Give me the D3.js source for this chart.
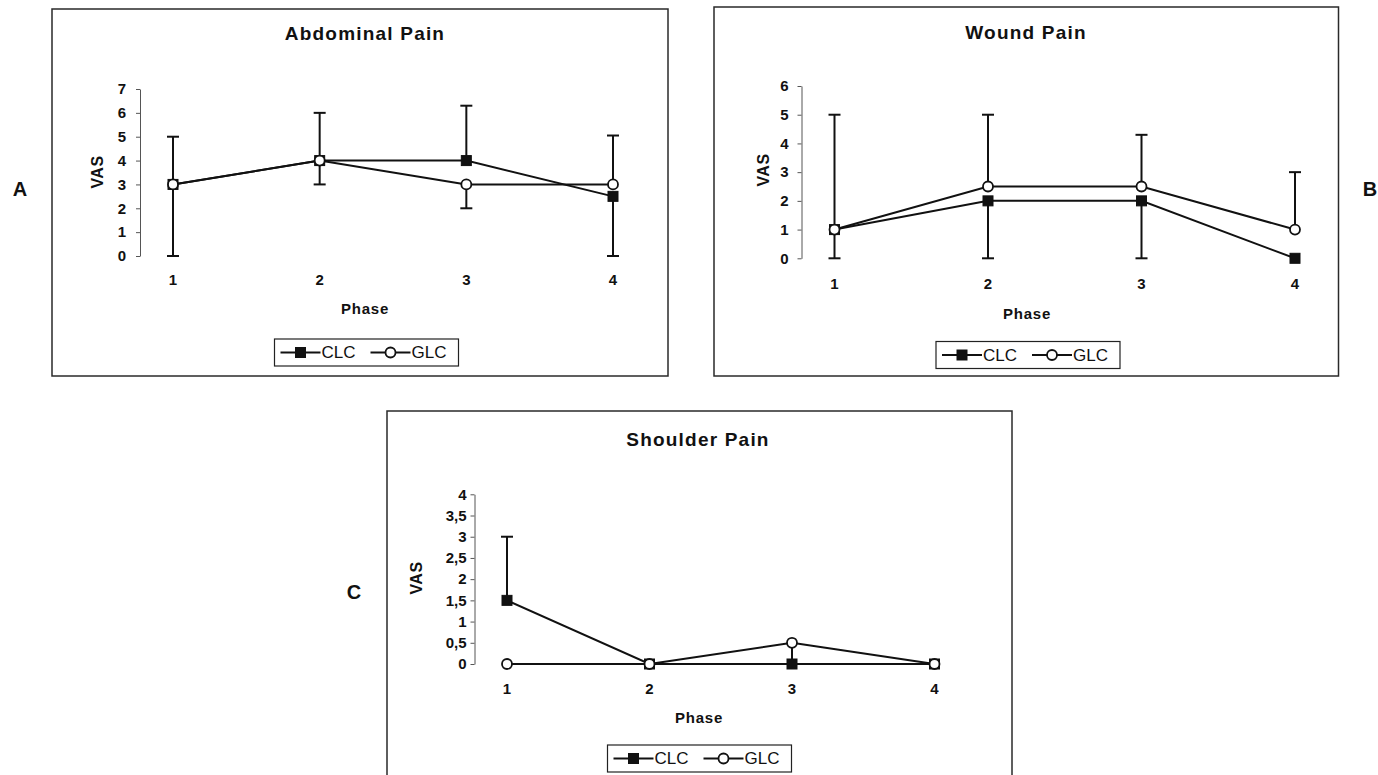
<!DOCTYPE html>
<html>
<head>
<meta charset="utf-8">
<script src="https://cdn.jsdelivr.net/npm/d3@7"></script>
<style>
  html, body { margin: 0; padding: 0; background: #fff; }
  svg { display: block; font-family: "Liberation Sans", Arial, Helvetica, sans-serif; }
</style>
</head>
<body>
<svg id="chart" width="1378" height="775"></svg>
<script>
// ---- data ----
const phases = [1, 2, 3, 4];
const seriesNames = ["CLC", "GLC"];

// Abdominal pain (VAS per phase)
const abdominalClc = [3, 4, 4, 2.5];
const abdominalGlc = [3, 4, 3, 3];
const abdominalClcHigh = [5, 6, 6.3, null];
const abdominalClcLow = [0, 3, null, 0];
const abdominalGlcHigh = [null, null, null, 5.05];
const abdominalGlcLow = [null, null, 2, null];
const abdominalTicks = [0, 1, 2, 3, 4, 5, 6, 7];

// Wound pain
const woundClc = [1, 2, 2, 0];
const woundGlc = [1, 2.5, 2.5, 1];
const woundClcHigh = [null, null, null, null];
const woundClcLow = [0, 0, 0, null];
const woundGlcHigh = [5, 5, 4.3, 3];
const woundGlcLow = [null, null, null, null];
const woundTicks = [0, 1, 2, 3, 4, 5, 6];

// Shoulder pain
const shoulderClc = [1.5, 0, 0, 0];
const shoulderGlc = [0, 0, 0.5, 0];
const shoulderClcHigh = [3, null, null, null];
const shoulderClcLow = [null, null, null, null];
const shoulderGlcHigh = [null, null, null, null];
const shoulderGlcLow = [null, null, 0, null];
const shoulderTicks = [0, 0.5, 1, 1.5, 2, 2.5, 3, 3.5, 4];
const shoulderTickLabels = ["0", "0,5", "1", "1,5", "2", "2,5", "3", "3,5", "4"];

// ---- layout of the three panels ----
const panels = [
  {
    title: "Abdominal Pain", letter: "A", letterX: 20, letterY: 189,
    frame: [52, 9, 668, 376],
    yMax: 7, yBottom: 256, yTop: 89, axisX: 140, tickPad: 10,
    ticks: abdominalTicks, tickFormat: d => String(d),
    xFirst: 173, xLast: 613, xLabelY: 279,
    titleX: 365, titleY: 40, phaseX: 365, phaseY: 308, vasX: 97, vasY: 172,
    legendX: 274.5, legendY: 339,
    clc: abdominalClc, glc: abdominalGlc,
    clcHigh: abdominalClcHigh, clcLow: abdominalClcLow,
    glcHigh: abdominalGlcHigh, glcLow: abdominalGlcLow
  },
  {
    title: "Wound Pain", letter: "B", letterX: 1370, letterY: 189,
    frame: [714, 7, 1338.5, 376],
    yMax: 6, yBottom: 258.3, yTop: 86, axisX: 801.5, tickPad: 9,
    ticks: woundTicks, tickFormat: d => String(d),
    xFirst: 834.5, xLast: 1295, xLabelY: 283,
    titleX: 1026, titleY: 39, phaseX: 1027, phaseY: 313, vasX: 763, vasY: 170,
    legendX: 936, legendY: 341.5,
    clc: woundClc, glc: woundGlc,
    clcHigh: woundClcHigh, clcLow: woundClcLow,
    glcHigh: woundGlcHigh, glcLow: woundGlcLow
  },
  {
    title: "Shoulder Pain", letter: "C", letterX: 354, letterY: 592,
    frame: [387, 411, 1012, 800],
    yMax: 4, yBottom: 664, yTop: 494.3, axisX: 474.5, tickPad: 4,
    ticks: shoulderTicks, tickFormat: (d, i) => shoulderTickLabels[i],
    xFirst: 507, xLast: 934.5, xLabelY: 688,
    titleX: 698, titleY: 446, phaseX: 699, phaseY: 717, vasX: 416, vasY: 578,
    legendX: 607.5, legendY: 745,
    clc: shoulderClc, glc: shoulderGlc,
    clcHigh: shoulderClcHigh, clcLow: shoulderClcLow,
    glcHigh: shoulderGlcHigh, glcLow: shoulderGlcLow
  }
];

const svg = d3.select("#chart");
const INK = "#111";

function drawSquare(g, cx, cy) {
  g.append("rect")
    .attr("x", cx - 5).attr("y", cy - 5)
    .attr("width", 10).attr("height", 10)
    .attr("fill", INK).attr("stroke", INK).attr("stroke-width", 1);
}
function drawCircle(g, cx, cy) {
  g.append("circle")
    .attr("cx", cx).attr("cy", cy).attr("r", 5)
    .attr("fill", "#fff").attr("stroke", INK).attr("stroke-width", 1.8);
}

function drawPanel(p) {
  const g = svg.append("g");
  const [fx0, fy0, fx1, fy1] = p.frame;

  // outer frame
  g.append("rect")
    .attr("x", fx0).attr("y", fy0)
    .attr("width", fx1 - fx0).attr("height", fy1 - fy0)
    .attr("fill", "none").attr("stroke", "#2a2a2a").attr("stroke-width", 1.5);

  // title
  g.append("text")
    .attr("x", p.titleX).attr("y", p.titleY)
    .attr("text-anchor", "middle")
    .attr("font-size", 19).attr("font-weight", "bold")
    .attr("letter-spacing", 1.2)
    .attr("fill", INK)
    .text(p.title);

  // panel letter
  svg.append("text")
    .attr("x", p.letterX).attr("y", p.letterY)
    .attr("text-anchor", "middle").attr("dominant-baseline", "central")
    .attr("font-size", 20).attr("font-weight", "bold")
    .attr("fill", INK)
    .text(p.letter);

  const x = d3.scalePoint().domain(phases).range([p.xFirst, p.xLast]);
  const y = d3.scaleLinear().domain([0, p.yMax]).range([p.yBottom, p.yTop]);

  // value axis
  const yAxis = d3.axisLeft(y)
    .tickValues(p.ticks)
    .tickFormat(p.tickFormat)
    .tickSize(4).tickSizeOuter(0)
    .tickPadding(p.tickPad);
  const ya = g.append("g")
    .attr("transform", `translate(${p.axisX},0)`)
    .call(yAxis);
  ya.select(".domain").attr("stroke", "#555").attr("stroke-width", 1);
  ya.selectAll(".tick line").attr("stroke", "#555").attr("stroke-width", 1);
  ya.selectAll(".tick text")
    .attr("font-size", 15).attr("font-weight", "bold")
    .attr("font-family", "Liberation Sans, Arial, sans-serif")
    .attr("fill", INK);

  // phase labels (category axis, no axis line)
  g.selectAll("text.phase-tick")
    .data(phases)
    .join("text")
    .attr("class", "phase-tick")
    .attr("x", d => x(d)).attr("y", p.xLabelY)
    .attr("text-anchor", "middle").attr("dominant-baseline", "central")
    .attr("font-size", 15).attr("font-weight", "bold")
    .attr("fill", INK)
    .text(d => d);

  // axis titles
  g.append("text")
    .attr("x", p.phaseX).attr("y", p.phaseY)
    .attr("text-anchor", "middle").attr("dominant-baseline", "central")
    .attr("font-size", 15).attr("font-weight", "bold")
    .attr("letter-spacing", 0.8)
    .attr("fill", INK)
    .text("Phase");
  g.append("text")
    .attr("transform", `translate(${p.vasX},${p.vasY}) rotate(-90)`)
    .attr("text-anchor", "middle").attr("dominant-baseline", "central")
    .attr("font-size", 16).attr("font-weight", "bold")
    .attr("letter-spacing", 0.5)
    .attr("fill", INK)
    .text("VAS");

  // error bars
  const errGroup = g.append("g")
    .attr("stroke", INK).attr("stroke-width", 2).attr("fill", "none");
  function errorBars(values, ends) {
    phases.forEach((ph, i) => {
      const e = ends[i];
      if (e === null || e === undefined) return;
      const cx = x(ph);
      errGroup.append("line")
        .attr("x1", cx).attr("x2", cx)
        .attr("y1", y(values[i])).attr("y2", y(e));
      errGroup.append("line")
        .attr("x1", cx - 6).attr("x2", cx + 6)
        .attr("y1", y(e)).attr("y2", y(e));
    });
  }
  errorBars(p.clc, p.clcHigh);
  errorBars(p.clc, p.clcLow);
  errorBars(p.glc, p.glcHigh);
  errorBars(p.glc, p.glcLow);

  // series lines
  const line = d3.line().x((d, i) => x(phases[i])).y(d => y(d));
  g.append("path").datum(p.clc)
    .attr("d", line).attr("fill", "none")
    .attr("stroke", INK).attr("stroke-width", 2);
  g.append("path").datum(p.glc)
    .attr("d", line).attr("fill", "none")
    .attr("stroke", INK).attr("stroke-width", 2);

  // markers: CLC squares underneath, GLC circles on top
  p.clc.forEach((v, i) => drawSquare(g, x(phases[i]), y(v)));
  p.glc.forEach((v, i) => drawCircle(g, x(phases[i]), y(v)));

  // legend
  const lg = g.append("g").attr("transform", `translate(${p.legendX},${p.legendY})`);
  lg.append("rect")
    .attr("width", 184).attr("height", 27)
    .attr("fill", "#fff").attr("stroke", "#222").attr("stroke-width", 1.2);
  const items = [
    { name: seriesNames[0], x0: 6, draw: drawSquare },
    { name: seriesNames[1], x0: 96, draw: drawCircle }
  ];
  items.forEach(it => {
    lg.append("line")
      .attr("x1", it.x0).attr("x2", it.x0 + 40)
      .attr("y1", 13.5).attr("y2", 13.5)
      .attr("stroke", INK).attr("stroke-width", 2);
    it.draw(lg, it.x0 + 20, 13.5);
    lg.append("text")
      .attr("x", it.x0 + 41).attr("y", 13.5)
      .attr("dominant-baseline", "central")
      .attr("font-size", 17)
      .attr("fill", INK)
      .text(it.name);
  });
}

panels.forEach(drawPanel);
</script>
</body>
</html>
